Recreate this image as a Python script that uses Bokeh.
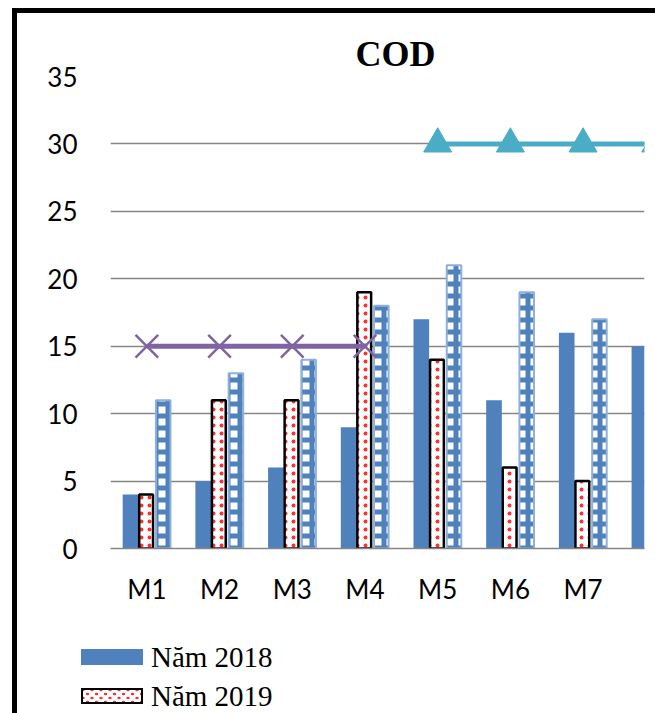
import math
from bokeh.plotting import figure
from bokeh.layouts import column
from bokeh.models import ColumnDataSource, FixedTicker, Range1d, Div
from bokeh.transform import dodge
from bokeh.embed import file_html
from bokeh.resources import INLINE

nan = float("nan")
months = ["M1", "M2", "M3", "M4", "M5", "M6", "M7", "M8"]
series_names = ["Năm 2018", "Năm 2019", "Năm 2020"]
y2018 = [4, 5, 6, 9, 17, 11, 16, 15]
y2019 = [4, 11, 11, 19, 14, 6, 5, nan]
y2020 = [11, 13, 14, 18, 21, 19, 17, nan]
limit_a = [15, 15, 15, 15, nan, nan, nan, nan]
limit_b = [nan, nan, nan, nan, 30, 30, 30, 30]
y_ticks = [0, 5, 10, 15, 20, 25, 30, 35]

idx = list(range(len(months)))
src = ColumnDataSource(dict(x=idx, m=months, y2018=y2018, y2019=y2019, y2020=y2020,
                            la=limit_a, lb=limit_b))

BLUE = "#4F81BD"
RED = "#FF3030"

p = figure(width=638, height=617, x_range=Range1d(-0.5, 6.845), y_range=Range1d(0, 35),
           output_backend="svg", toolbar_location=None,
           min_border_left=93, min_border_right=11, min_border_top=63, min_border_bottom=82,
           title="COD")
p.outline_line_color = None
p.background_fill_color = "white"
p.border_fill_color = "white"

p.title.text_font = "Liberation Serif"
p.title.text_font_style = "bold"
p.title.text_font_size = "36px"
p.title.text_color = "black"
p.title.align = "left"
p.title.offset = 245
p.title.standoff = 5

p.vbar(x=dodge("x", -0.225), top="y2018", width=0.215, bottom=0, source=src,
       fill_color=BLUE, line_color=None, legend_label=None) if False else \
    p.vbar(x=dodge("x", -0.225), top="y2018", width=0.215, bottom=0, source=src,
           fill_color=BLUE, line_color=None)
p.vbar(x=dodge("x", -0.01), top="y2019", width=0.19, bottom=0, source=src,
       fill_color="white", line_color="black", line_width=2.5,
       hatch_pattern="dot", hatch_color=RED, hatch_scale=8)
p.vbar(x=dodge("x", 0.225), top="y2020", width=0.2, bottom=0, source=src,
       fill_color="white", line_color="#8FB0D8", line_width=2,
       hatch_pattern="cross", hatch_color=BLUE, hatch_scale=12, hatch_weight=5)

p.line(x="x", y="la", source=src, line_color="#8064A2", line_width=5)
p.scatter(x="x", y="la", source=src, marker="x", size=32, line_color="#8064A2", line_width=2.5)
p.line(x="x", y="lb", source=src, line_color="#4BACC6", line_width=5)
p.scatter(x="x", y="lb", source=src, marker="triangle", size=28, fill_color="#4BACC6",
          line_color="#4BACC6")

p.xaxis.ticker = FixedTicker(ticks=idx)
p.xaxis.major_label_overrides = {i: m for i, m in zip(idx, months)}
p.xaxis.major_tick_line_color = None
p.xaxis.minor_tick_line_color = None
p.xaxis.axis_line_color = "#868686"
p.xaxis.axis_line_width = 1.5
p.xaxis.major_label_text_font = "Lato"
p.xaxis.major_label_text_font_size = "26px"
p.xaxis.major_label_text_color = "black"
p.xaxis.major_label_standoff = 18

p.yaxis.ticker = FixedTicker(ticks=y_ticks)
p.yaxis.axis_line_color = None
p.yaxis.major_tick_line_color = None
p.yaxis.minor_tick_line_color = None
p.yaxis.major_label_text_font = "Lato"
p.yaxis.major_label_text_font_size = "26px"
p.yaxis.major_label_text_color = "black"
p.yaxis.major_label_standoff = 27

p.xgrid.grid_line_color = None
p.ygrid.ticker = FixedTicker(ticks=y_ticks)
p.ygrid.grid_line_color = "#868686"
p.ygrid.grid_line_width = 1.5

# legend (only the first two entries fit in the visible area)
swatch18 = f"background:{BLUE};"
swatch19 = (f"background-color:white;border:2.5px solid black;box-sizing:border-box;"
            f"background-image:radial-gradient(circle, {RED} 1.2px, transparent 1.6px),"
            f"radial-gradient(circle, {RED} 1.2px, transparent 1.6px);"
            "background-size:9px 8px;background-position:0 0, 4.5px 4px;")
items = [(series_names[0], swatch18, 10), (series_names[1], swatch19, 49)]
html = ['<div style="position:relative;width:638px;height:83px;'
        "font-family:'Liberation Serif';font-size:29px;color:black;\">"]
for label, sw, top in items:
    html.append(
        f'<div style="position:absolute;left:64px;top:{top}px;height:34px;'
        'display:flex;align-items:center;white-space:nowrap;">'
        f'<span style="display:inline-block;width:62px;height:16px;{sw}"></span>'
        f'<span style="margin-left:8px;line-height:34px;">{label}</span></div>')
html.append("</div>")
leg = Div(text="".join(html), width=638, height=83, margin=0)

layout = column(p, leg, spacing=0)
layout.styles = {"border-top": "5px solid black", "border-left": "5px solid black",
                 "margin-left": "12px", "margin-top": "8px"}

open("out.html", "w").write(file_html(layout, INLINE))
